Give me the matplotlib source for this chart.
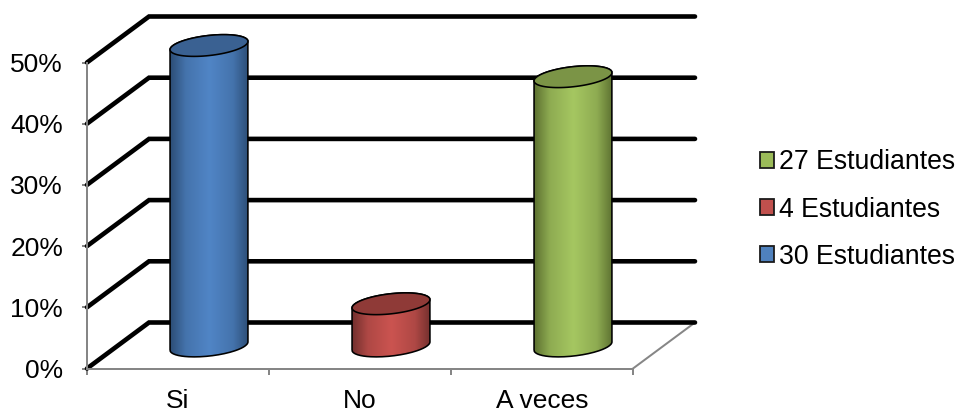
import numpy as np
import matplotlib
matplotlib.use('Agg')
import matplotlib.pyplot as plt
from matplotlib.colors import LinearSegmentedColormap, to_rgb
from matplotlib.patches import Patch, PathPatch
from matplotlib.path import Path

plt.rcParams['font.family'] = ['Liberation Sans', 'DejaVu Sans']

categories = ['Si', 'No', 'A veces']
percentages = [49.1, 6.9, 44.0]
tick_values = [0, 10, 20, 30, 40, 50]
legend_labels = ['27 Estudiantes', '4 Estudiantes', '30 Estudiantes']
legend_colors = ['#9bbb59', '#c0504d', '#4f81bd']

edge_colors = ['#2c4d75', '#722f2d', '#5c7030']
mid_colors = ['#5085c6', '#cb5450', '#a5c761']
top_colors = ['#3a6192', '#8f3a37', '#7b9446']

W, H = 958, 412
PX = 1 / 100 * 72  # points per pixel
CAT_PX = 182.0
PCT_PX = 6.12
DEPTH_X = 62 / CAT_PX
DEPTH_Y = 46 / PCT_PX
GRID_GREY = '#868686'


def ellipse_points(cx, cy, a=39.2, b=10.0, angle=6.5, start=0.0, stop=2 * np.pi):
    # ellipse sized in pixels, returned in data units around (cx, cy)
    t = np.linspace(start, stop, 80)
    th = np.radians(angle)
    ex = a * np.cos(t) * np.cos(th) - b * np.sin(t) * np.sin(th)
    ey = a * np.cos(t) * np.sin(th) + b * np.sin(t) * np.cos(th)
    return np.column_stack([cx + ex / CAT_PX, cy + ey / PCT_PX])


def side_cmap(edge, mid):
    # darkening stays close to the rims of the cylinder
    e, m = np.array(to_rgb(edge)), np.array(to_rgb(mid))
    shoulder = tuple(e + 0.68 * (m - e))
    stops = [(0, edge), (0.2, shoulder), (0.5, mid), (0.8, shoulder), (1, edge)]
    return LinearSegmentedColormap.from_list('side', stops)


def draw_cylinder(ax, pos, value, edge, mid, top):
    cx = pos + 0.5 + DEPTH_X / 2
    base = 22.5 / PCT_PX
    lower = ellipse_points(cx, base, start=np.pi, stop=2 * np.pi)
    upper = ellipse_points(cx, base + value, start=0, stop=np.pi)
    side = Path(np.vstack([lower, upper, lower[:1]]))

    half = 39.5 / CAT_PX
    img = ax.imshow(np.linspace(0, 1, 256).reshape(1, -1), cmap=side_cmap(edge, mid), aspect='auto',
                    extent=[cx - half, cx + half, 0, base + value + 3], zorder=3)
    outline = PathPatch(side, facecolor='none', edgecolor='black', lw=1.6 * PX, zorder=4, clip_on=False)
    ax.add_patch(outline)
    img.set_clip_box(fig.bbox)
    img.set_clip_path(side, ax.transData)

    top_path = Path(ellipse_points(cx, base + value))
    ax.add_patch(PathPatch(top_path, facecolor=top, edgecolor='black', lw=1.6 * PX, zorder=5, clip_on=False))


fig = plt.figure(figsize=(W / 100, H / 100), dpi=100)
ax = fig.add_axes([87 / W, 1 - 368.5 / H, 546 / W, 50 * PCT_PX / H])

# back wall and side wall gridlines
for v in tick_values:
    ax.plot([0, DEPTH_X, 3 + DEPTH_X], [v, v + DEPTH_Y, v + DEPTH_Y], color='black',
            lw=4.6 * PX, solid_capstyle='round', solid_joinstyle='miter', clip_on=False, zorder=2)

# right edge of the floor
ax.plot([3, 3 + DEPTH_X], [0, DEPTH_Y], color=GRID_GREY, lw=2 * PX, clip_on=False, zorder=1)

for i, value in enumerate(percentages):
    draw_cylinder(ax, i, value, edge_colors[i], mid_colors[i], top_colors[i])

ax.set_xlim(0, 3)
ax.set_ylim(0, 50)
ax.patch.set_visible(False)
for name in ['top', 'right']:
    ax.spines[name].set_visible(False)
for name in ['left', 'bottom']:
    ax.spines[name].set_color(GRID_GREY)
    ax.spines[name].set_linewidth(2 * PX)

ax.set_yticks(tick_values)
ax.set_yticklabels([f'{v}%' for v in tick_values], fontsize=19)
ax.tick_params(axis='y', length=5 * PX, width=2 * PX, color=GRID_GREY, pad=19 * PX)
ax.set_xticks([0, 1, 2, 3])
ax.set_xticklabels([])
ax.tick_params(axis='x', which='major', length=6 * PX, width=2 * PX, color=GRID_GREY)
ax.set_xticks([0.5, 1.5, 2.5], labels=categories, minor=True, fontsize=19)
ax.tick_params(axis='x', which='minor', length=0, pad=21 * PX)

handles = [Patch(facecolor=c, edgecolor='#1a1a1a', lw=1.8 * PX) for c in legend_colors]
fig.legend(handles, legend_labels, loc='center left', bbox_to_anchor=(760 / W, 1 - 209.5 / H),
           frameon=False, fontsize=19.2, borderpad=0, borderaxespad=0, handlelength=0.52,
           handleheight=0.55, handletextpad=0.2, labelspacing=0.79)

fig.savefig('out.png', dpi=100)
